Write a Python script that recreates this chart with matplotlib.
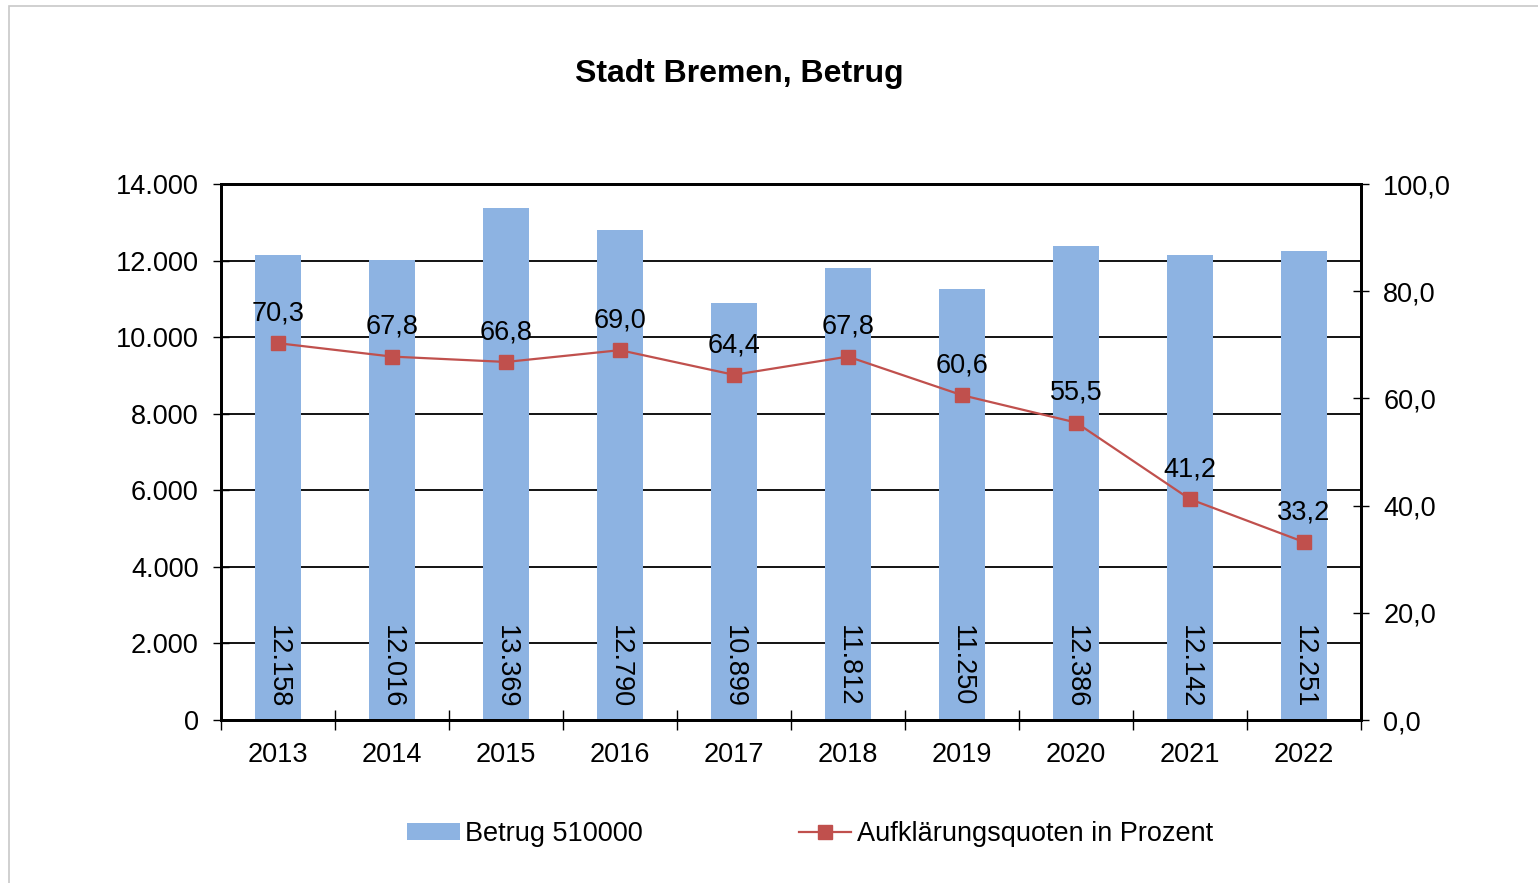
"""Stadt Bremen, Betrug: Fallzahlen und Aufklärungsquoten 2013-2022."""

import matplotlib

matplotlib.use("Agg")

import matplotlib.pyplot as plt
from matplotlib.patches import Rectangle

plt.rcParams["font.family"] = ["Liberation Sans", "DejaVu Sans"]

YEARS = ["2013", "2014", "2015", "2016", "2017", "2018", "2019", "2020", "2021", "2022"]
CASES = [12158, 12016, 13369, 12790, 10899, 11812, 11250, 12386, 12142, 12251]
RATES = [70.3, 67.8, 66.8, 69.0, 64.4, 67.8, 60.6, 55.5, 41.2, 33.2]

BAR_COLOR = "#8DB3E2"
LINE_COLOR = "#C0504D"
FS = 19.5


def de_int(v):
    return f"{v:,.0f}".replace(",", ".")


def de_dec(v):
    return f"{v:.1f}".replace(".", ",")


def main() -> None:
    fig = plt.figure(figsize=(15.38, 8.83), dpi=100)
    fig.patches.append(Rectangle((9 / 1538, -0.05), 1.1, 1 - 6 / 883 + 0.05,
                                 transform=fig.transFigure, fill=False,
                                 edgecolor="#C8C8C8", linewidth=1.2))
    ax = fig.add_axes([221 / 1538, 163 / 883, 1140 / 1538, 536 / 883])
    ax2 = ax.twinx()

    x = list(range(len(YEARS)))
    bars = ax.bar(x, CASES, width=0.4, color=BAR_COLOR, zorder=2, label="Betrug 510000")
    for rect, v in zip(bars, CASES):
        ax.text(rect.get_x() + rect.get_width() / 2, 2480, de_int(v), rotation=270,
                ha="center", va="top", fontsize=FS, zorder=3)

    ax.set_ylim(0, 14000)
    ax.set_xlim(-0.5, len(YEARS) - 0.5)
    ax.set_yticks(range(0, 14001, 2000))
    ax.set_yticklabels([de_int(v) for v in range(0, 14001, 2000)], fontsize=FS)
    ax.yaxis.grid(True, color="black", linewidth=1.3, zorder=1)
    ax.set_axisbelow(True)
    ax.set_xticks(x)
    ax.set_xticklabels(YEARS, fontsize=FS)
    ax.tick_params(axis="x", length=0, pad=16)
    ax.set_xticks([i - 0.5 for i in range(len(YEARS) + 1)], minor=True)
    ax.tick_params(axis="x", which="minor", direction="inout", length=14, width=1)
    ax.tick_params(axis="y", direction="inout", length=12, width=1, pad=10)
    for s in ax.spines.values():
        s.set_linewidth(2)

    ax2.plot(x, RATES, color=LINE_COLOR, linewidth=1.6, marker="s", markersize=10,
             zorder=4, label="Aufklärungsquoten in Prozent")
    for xi, r in zip(x, RATES):
        ax2.annotate(de_dec(r), (xi, r), xytext=(0, 12), textcoords="offset points",
                     ha="center", va="bottom", fontsize=FS)
    ax2.set_ylim(0, 100)
    ax2.set_yticks(range(0, 101, 20))
    ax2.set_yticklabels([de_dec(v) for v in range(0, 101, 20)], fontsize=FS)
    ax2.tick_params(axis="y", direction="inout", length=12, width=1, pad=10)
    for s in ax2.spines.values():
        s.set_linewidth(2)

    fig.text(739 / 1538, 1 - 74 / 883, "Stadt Bremen, Betrug", ha="center", va="center",
             fontsize=23, fontweight="bold")

    h1, l1 = ax.get_legend_handles_labels()
    h2, l2 = ax2.get_legend_handles_labels()
    fig.legend(h1 + h2, l1 + l2, loc="center", bbox_to_anchor=(810 / 1538, 1 - 834 / 883),
               ncol=2, frameon=False, fontsize=FS, handlelength=1.95, handletextpad=0.2,
               columnspacing=5.75, handleheight=0.6)

    fig.savefig("out.png", dpi=100)
    plt.close(fig)


if __name__ == "__main__":
    main()
